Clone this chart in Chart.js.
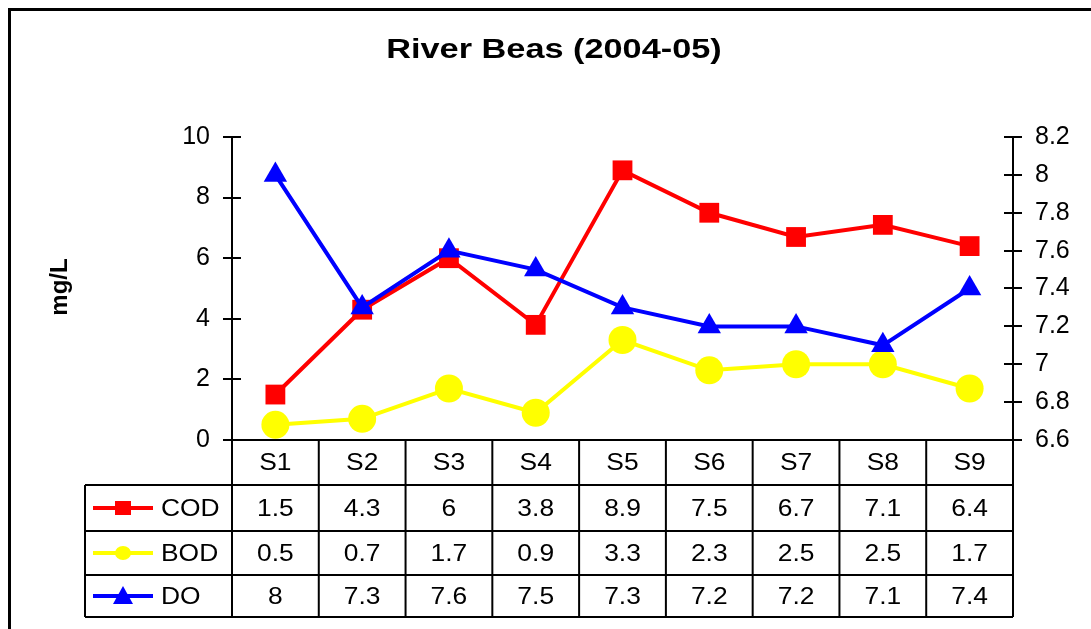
<!DOCTYPE html>
<html>
<head>
<meta charset="utf-8">
<title>River Beas (2004-05)</title>
<script src="https://cdn.jsdelivr.net/npm/chart.js@4.4.1/dist/chart.umd.min.js"></script>
<style>
    html, body { margin: 0; padding: 0; background: #fff; }
    canvas { display: block; }
</style>
</head>
<body>
<canvas id="beasChart" width="1091" height="629"></canvas>
<script>
// River Beas water quality (2004-05), Excel style line chart with data table

const sites = ['S1', 'S2', 'S3', 'S4', 'S5', 'S6', 'S7', 'S8', 'S9'];
const codValues = [1.5, 4.3, 6, 3.8, 8.9, 7.5, 6.7, 7.1, 6.4];
const bodValues = [0.5, 0.7, 1.7, 0.9, 3.3, 2.3, 2.5, 2.5, 1.7];
const doValues = [8, 7.3, 7.6, 7.5, 7.3, 7.2, 7.2, 7.1, 7.4];
const leftTicks = [0, 2, 4, 6, 8, 10];
const rightTicks = [6.6, 6.8, 7, 7.2, 7.4, 7.6, 7.8, 8, 8.2];

const fontFamily = '"Liberation Sans", Arial, sans-serif';
const red = '#FF0000';
const yellow = '#FFFF00';
const blue = '#0000FF';

// text slightly stretched sideways, like the original Excel export
function wideText(ctx, text, x, y, stretch) {
    ctx.save();
    ctx.translate(x, y);
    ctx.scale(stretch, 1);
    ctx.fillText(text, 0, 0);
    ctx.restore();
}

// draws the legend markers inside the table
function drawMarker(ctx, style, x, y, color) {
    ctx.fillStyle = color;
    ctx.beginPath();
    if (style === 'rect') {
        ctx.rect(x - 8, y - 7, 16, 14);
    } else if (style === 'circle') {
        ctx.ellipse(x, y, 8, 7, 0, 0, Math.PI * 2);
    } else {
        ctx.moveTo(x, y - 10);
        ctx.lineTo(x + 10, y + 8);
        ctx.lineTo(x - 10, y + 8);
        ctx.closePath();
    }
    ctx.fill();
}

const tablePlugin = {
    id: 'dataTable',
    afterDraw(chart) {
        const ctx = chart.ctx;
        const area = chart.chartArea;
        const xScale = chart.scales.x;
        const colW = (area.right - area.left) / sites.length;
        const tableLeft = 85;
        const rowY = [area.bottom, 485, 531, 575, 617];

        ctx.save();

        // outer frame
        ctx.strokeStyle = '#000';
        ctx.lineWidth = 3;
        ctx.strokeRect(9.5, 9.5, 1200, 800);

        // title
        ctx.fillStyle = '#000';
        ctx.textAlign = 'center';
        ctx.textBaseline = 'middle';
        ctx.font = 'bold 27px ' + fontFamily;
        wideText(ctx, 'River Beas (2004-05)', 554, 51, 1.27);

        // y axis title
        ctx.save();
        ctx.translate(60, 287);
        ctx.rotate(-Math.PI / 2);
        ctx.font = 'bold 24px ' + fontFamily;
        ctx.fillText('mg/L', 0, 0);
        ctx.restore();

        // inner half of the crossing tick marks
        ctx.lineWidth = 2;
        ctx.beginPath();
        chart.scales.y.ticks.forEach(t => {
            const py = Math.round(chart.scales.y.getPixelForValue(t.value));
            ctx.moveTo(area.left, py);
            ctx.lineTo(area.left + 9, py);
        });
        chart.scales.y2.ticks.forEach(t => {
            const py = Math.round(chart.scales.y2.getPixelForValue(t.value));
            ctx.moveTo(area.right - 9, py);
            ctx.lineTo(area.right, py);
        });
        ctx.stroke();

        // table grid
        ctx.beginPath();
        ctx.moveTo(area.left, rowY[0]);
        ctx.lineTo(area.right, rowY[0]);
        for (let r = 1; r < rowY.length; r++) {
            ctx.moveTo(tableLeft, rowY[r]);
            ctx.lineTo(area.right, rowY[r]);
        }
        for (let i = 0; i < sites.length; i++) {
            const xl = xScale.getPixelForValue(i) - colW / 2;
            ctx.moveTo(xl, rowY[0]);
            ctx.lineTo(xl, rowY[4]);
        }
        ctx.moveTo(area.right, rowY[0]);
        ctx.lineTo(area.right, rowY[4]);
        ctx.moveTo(tableLeft, rowY[1]);
        ctx.lineTo(tableLeft, rowY[4]);
        ctx.stroke();

        // table text
        ctx.font = '24px ' + fontFamily;
        ctx.fillStyle = '#000';
        sites.forEach((s, i) => {
            wideText(ctx, s, xScale.getPixelForValue(i), (rowY[0] + rowY[1]) / 2 + 1, 1.1);
        });
        chart.data.datasets.forEach((ds, r) => {
            const cy = (rowY[r + 1] + rowY[r + 2]) / 2 + 1;
            ds.data.forEach((v, i) => {
                ctx.fillStyle = '#000';
                ctx.textAlign = 'center';
                wideText(ctx, String(v), xScale.getPixelForValue(i), cy, 1.1);
            });
            // legend key
            ctx.strokeStyle = ds.borderColor;
            ctx.lineWidth = 4;
            ctx.beginPath();
            ctx.moveTo(tableLeft + 8, cy - 1);
            ctx.lineTo(tableLeft + 68, cy - 1);
            ctx.stroke();
            drawMarker(ctx, ds.pointStyle, tableLeft + 38, cy - 1, ds.borderColor);
            ctx.fillStyle = '#000';
            ctx.textAlign = 'left';
            wideText(ctx, ds.label, tableLeft + 76, cy, 1.1);
        });

        ctx.restore();
    }
};

const tickFont = { family: fontFamily, size: 25 };

new Chart(document.getElementById('beasChart'), {
    type: 'line',
    data: {
        labels: sites,
        datasets: [{
            label: 'COD',
            data: codValues,
            yAxisID: 'y',
            borderColor: red,
            backgroundColor: red,
            borderWidth: 4,
            pointStyle: 'rect',
            pointRadius: 14,
            pointBorderWidth: 0,
            order: 1
        }, {
            label: 'BOD',
            data: bodValues,
            yAxisID: 'y',
            borderColor: yellow,
            backgroundColor: yellow,
            borderWidth: 4,
            pointStyle: 'circle',
            pointRadius: 14,
            pointBorderWidth: 0,
            order: 2
        }, {
            label: 'DO',
            data: doValues,
            yAxisID: 'y2',
            borderColor: blue,
            backgroundColor: blue,
            borderWidth: 4,
            pointStyle: 'triangle',
            pointRadius: 13.5,
            pointBorderWidth: 0,
            order: 0
        }]
    },
    options: {
        responsive: false,
        animation: false,
        clip: false,
        layout: {
            padding: { top: 137, bottom: 189, left: 0, right: 0 }
        },
        plugins: {
            legend: { display: false },
            title: { display: false },
            tooltip: { enabled: false }
        },
        scales: {
            x: {
                display: false,
                offset: true
            },
            y: {
                position: 'left',
                min: 0,
                max: 10,
                afterBuildTicks: s => { s.ticks = leftTicks.map(v => ({ value: v })); },
                afterFit: s => { s.width = 232; },
                border: { display: true, color: '#000', width: 2 },
                grid: { drawOnChartArea: false, drawTicks: true, tickLength: 9, color: '#000', lineWidth: 2 },
                ticks: { color: '#000', font: tickFont, padding: 13 }
            },
            y2: {
                position: 'right',
                min: 6.6,
                max: 8.2,
                afterBuildTicks: s => { s.ticks = rightTicks.map(v => ({ value: v })); },
                afterFit: s => { s.width = 78; },
                border: { display: true, color: '#000', width: 2 },
                grid: { drawOnChartArea: false, drawTicks: true, tickLength: 9, color: '#000', lineWidth: 2 },
                ticks: {
                    color: '#000',
                    font: tickFont,
                    padding: 13,
                    callback: v => String(+v.toFixed(1))
                }
            }
        }
    },
    plugins: [tablePlugin]
});
</script>
</body>
</html>
